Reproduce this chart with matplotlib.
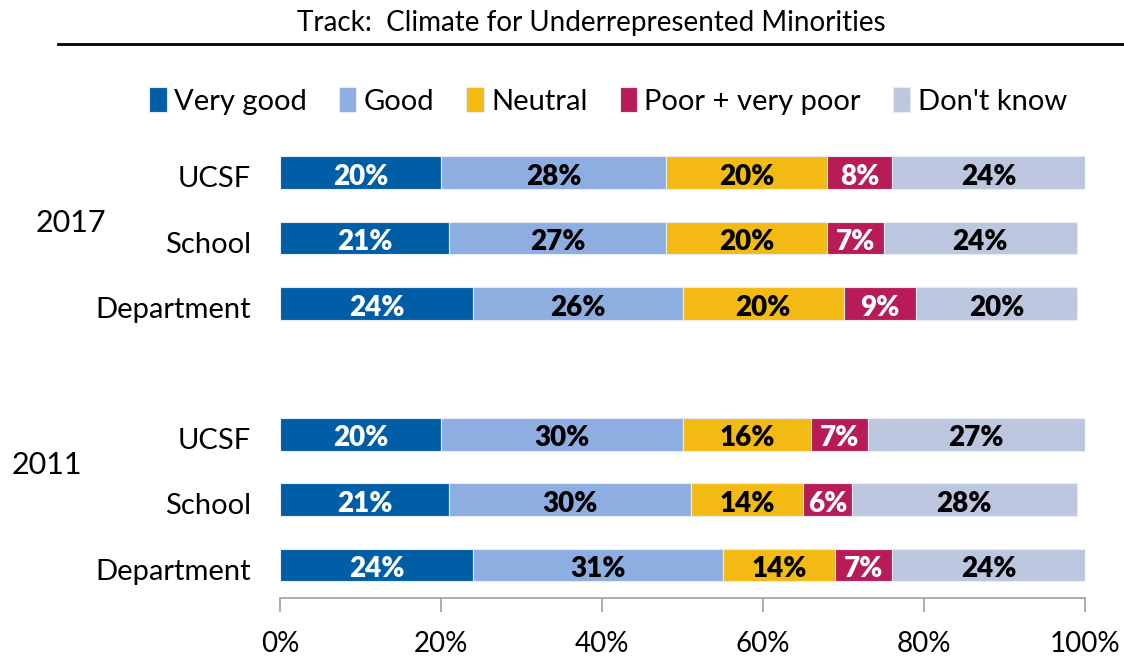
import matplotlib
matplotlib.use("Agg")
import matplotlib.pyplot as plt
import matplotlib.transforms as mtransforms
import numpy as np

plt.rcParams['font.family'] = ['Lato', 'DejaVu Sans']

# Survey shares (%) per response, rows top to bottom; blank row separates the years
rows = ["UCSF", "School", "Department", "", "UCSF", "School", "Department"]
very_good = [20, 21, 24, None, 20, 21, 24]
good = [28, 27, 26, None, 30, 30, 31]
neutral = [20, 20, 20, None, 16, 14, 14]
poor = [8, 7, 9, None, 7, 6, 7]
dont_know = [24, 24, 20, None, 27, 28, 24]

series = [
    ("Very good", very_good, "#005ea6", "white"),
    ("Good", good, "#8eaee2", "black"),
    ("Neutral", neutral, "#f2ba13", "black"),
    ("Poor + very poor", poor, "#b71c58", "white"),
    ("Don't know", dont_know, "#bcc7df", "black"),
]
years = ["2017", "2011"]
xticks = [0, 20, 40, 60, 80, 100]

fig = plt.figure(figsize=(11.24, 6.56), dpi=100)
ax = fig.add_axes([280 / 1124, 1 - 598 / 656, 805 / 1124, 458 / 656])

# nudge text a few pixels down
shift = mtransforms.ScaledTranslation(0, -3 / 72, fig.dpi_scale_trans)

idx = [i for i, r in enumerate(rows) if r]
left = np.zeros(len(idx))
handles = []
for name, vals, color, tcolor in series:
    v = np.array([vals[i] for i in idx], dtype=float)
    h = ax.barh(idx, v, left=left, height=0.5, color=color,
                edgecolor="#e8ecf4", linewidth=0.8, label=name)
    handles.append(h)
    for yi, l, w in zip(idx, left, v):
        ax.text(l + w / 2, yi, f"{int(w)}%", ha="center", va="center",
                color=tcolor, fontsize=20, fontweight="heavy",
                transform=ax.transData + shift)
    left = left + v

ax.set_ylim(6.505, -0.5)
ax.set_xlim(0, 100)
ax.set_yticks(idx)
ax.set_yticklabels([rows[i] for i in idx], fontsize=21)
ax.tick_params(axis="y", length=0, pad=21)
for lab in ax.get_yticklabels():
    lab.set_transform(lab.get_transform() + shift)
ax.set_xticks(xticks)
ax.set_xticklabels([f"{t}%" for t in xticks], fontsize=20)
ax.tick_params(axis="x", length=10, color="#a0a0a0", width=1.2, pad=14)
for s in ["top", "right", "left"]:
    ax.spines[s].set_visible(False)
ax.spines["bottom"].set_color("#a0a0a0")
ax.spines["bottom"].set_linewidth(1.2)

# year group labels
fig.text(71 / 1124, 1 - 223 / 656, years[0], ha="center", va="center", fontsize=22)
fig.text(47 / 1124, 1 - 465 / 656, years[1], ha="center", va="center", fontsize=22)

# title with rule beneath
fig.text(591 / 1124, 1 - 23 / 656, "Track:  Climate for Underrepresented Minorities",
         ha="center", va="center", fontsize=20)
fig.add_artist(plt.Line2D([58 / 1124, 1], [1 - 44 / 656] * 2, color="black", lw=2))

fig.legend(handles=handles, loc="center", bbox_to_anchor=(608 / 1124, 1 - 101 / 656),
           ncol=5, frameon=False, fontsize=21, handlelength=0.6, handleheight=0.9,
           handletextpad=0.25, columnspacing=1.1)

fig.savefig("out.png", dpi=100)
